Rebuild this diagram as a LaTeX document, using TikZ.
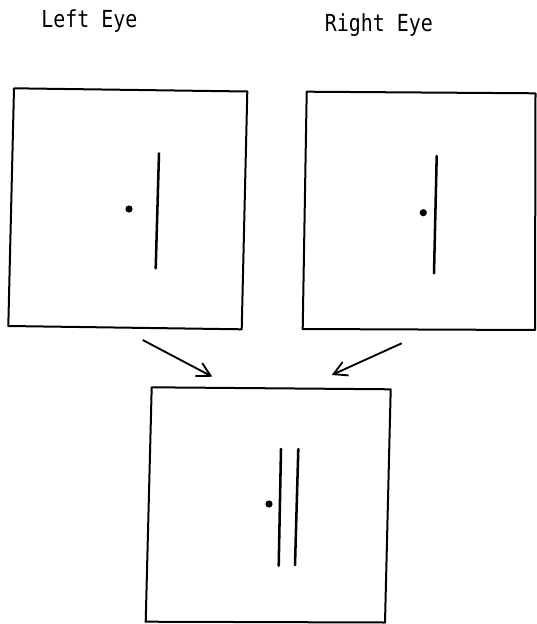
\documentclass[tikz,border=0pt]{standalone}
\usepackage{fontspec}
\newfontfamily\eyefont[FakeStretch=0.85]{DejaVu Sans Mono}
\usetikzlibrary{arrows.meta}
\begin{document}
\begin{tikzpicture}[x=0.75pt,y=-0.75pt,
  frame/.style={line width=1.5pt,line join=round},
  bar/.style={line width=1.9pt,line cap=round},
  fix/.style={fill=black},
  eyearrow/.style={line width=1.4pt,-{Straight Barb[length=10pt,width=11pt,line width=1.4pt]}},
  label/.style={font=\eyefont\fontsize{17.6pt}{20pt}\selectfont,anchor=base west,inner sep=0pt}]
\useasboundingbox (0,0) rectangle (536,624);
% labels
\node[label] (lefttxt) at (41,27.5) {Left Eye};
\node[label] (righttxt) at (324.5,31.5) {Right Eye};
% left eye box
\coordinate (L1) at (14,88.3);
\coordinate (L2) at (247.3,91.5);
\coordinate (L3) at (241.7,329.3);
\coordinate (L4) at (8.3,326);
\draw[frame] (L1) -- (L2) -- (L3) -- (L4) -- cycle;
\coordinate (Lbt) at (159,153.3);
\coordinate (Lbb) at (155.7,268.3);
\draw[bar] (Lbt) -- (Lbb);
\fill[fix] (129,209) circle[radius=3.6];
% right eye box
\coordinate (R1) at (306.7,91.7);
\coordinate (R2) at (535.5,93.3);
\coordinate (R3) at (535,330);
\coordinate (R4) at (302.7,329);
\draw[frame] (R1) -- (R2) -- (R3) -- (R4) -- cycle;
\coordinate (Rbt) at (436.7,156);
\coordinate (Rbb) at (434,273.3);
\draw[bar] (Rbt) -- (Rbb);
\fill[fix] (423.3,212.7) circle[radius=3.6];
% fused box
\coordinate (F1) at (151.7,387.3);
\coordinate (F2) at (390.7,389.3);
\coordinate (F3) at (385,622.5);
\coordinate (F4) at (145.7,621.7);
\draw[frame] (F1) -- (F2) -- (F3) -- (F4) -- cycle;
\coordinate (Fat) at (281,449);
\coordinate (Fab) at (278.7,565.7);
\coordinate (Fbt) at (298.3,449);
\coordinate (Fbb) at (295,565);
\draw[bar] (Fat) -- (Fab);
\draw[bar] (Fbt) -- (Fbb);
\fill[fix] (269,504) circle[radius=3.6];
% arrows
\coordinate (A1s) at (142.7,340);
\coordinate (A1e) at (212.3,376.7);
\coordinate (A2s) at (401.7,343.3);
\coordinate (A2e) at (331.7,375);
\draw[eyearrow] (A1s) -- (A1e);
\draw[eyearrow] (A2s) -- (A2e);
\end{tikzpicture}
\end{document}
